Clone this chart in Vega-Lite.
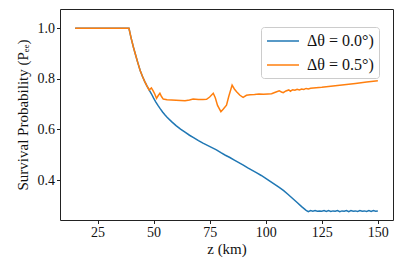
{
  "$schema": "https://vega.github.io/schema/vega-lite/v6.json",
  "width": 333,
  "height": 211,
  "autosize": "none",
  "padding": {"left": 60, "top": 9, "right": 20, "bottom": 55},
  "background": "white",
  "config": {
    "font": "Liberation Serif",
    "view": {"stroke": "#222", "strokeWidth": 1},
    "axis": {
      "grid": false, "domain": false, "ticks": true, "tickColor": "#222", "tickSize": 3.5,
      "labelFont": "Liberation Serif", "labelFontSize": 14, "labelColor": "#111",
      "titleFont": "Liberation Serif", "titleFontSize": 15, "titleFontWeight": "normal", "titleColor": "#111"
    }
  },
  "data": {"values": [
    {"z":15,"p":1.0,"s":"Δθ = 0.0°)"},{"z":39,"p":1.0,"s":"Δθ = 0.0°)"},{"z":40,"p":0.96,"s":"Δθ = 0.0°)"},{"z":41,"p":0.925,"s":"Δθ = 0.0°)"},{"z":42,"p":0.893,"s":"Δθ = 0.0°)"},{"z":43,"p":0.862,"s":"Δθ = 0.0°)"},{"z":44,"p":0.833,"s":"Δθ = 0.0°)"},{"z":45,"p":0.81,"s":"Δθ = 0.0°)"},{"z":46,"p":0.79,"s":"Δθ = 0.0°)"},{"z":47,"p":0.772,"s":"Δθ = 0.0°)"},{"z":48,"p":0.756,"s":"Δθ = 0.0°)"},{"z":49,"p":0.741,"s":"Δθ = 0.0°)"},{"z":50,"p":0.724,"s":"Δθ = 0.0°)"},{"z":51,"p":0.708,"s":"Δθ = 0.0°)"},{"z":52,"p":0.694,"s":"Δθ = 0.0°)"},{"z":53,"p":0.681,"s":"Δθ = 0.0°)"},{"z":54,"p":0.669,"s":"Δθ = 0.0°)"},{"z":55,"p":0.658,"s":"Δθ = 0.0°)"},{"z":56,"p":0.648,"s":"Δθ = 0.0°)"},{"z":58,"p":0.631,"s":"Δθ = 0.0°)"},{"z":60,"p":0.615,"s":"Δθ = 0.0°)"},{"z":62,"p":0.601,"s":"Δθ = 0.0°)"},{"z":64,"p":0.589,"s":"Δθ = 0.0°)"},{"z":66,"p":0.577,"s":"Δθ = 0.0°)"},{"z":68,"p":0.567,"s":"Δθ = 0.0°)"},{"z":70,"p":0.556,"s":"Δθ = 0.0°)"},{"z":72,"p":0.546,"s":"Δθ = 0.0°)"},{"z":74,"p":0.537,"s":"Δθ = 0.0°)"},{"z":76,"p":0.528,"s":"Δθ = 0.0°)"},{"z":78,"p":0.519,"s":"Δθ = 0.0°)"},{"z":80,"p":0.508,"s":"Δθ = 0.0°)"},{"z":82,"p":0.498,"s":"Δθ = 0.0°)"},{"z":84,"p":0.489,"s":"Δθ = 0.0°)"},{"z":86,"p":0.479,"s":"Δθ = 0.0°)"},{"z":88,"p":0.469,"s":"Δθ = 0.0°)"},{"z":90,"p":0.459,"s":"Δθ = 0.0°)"},{"z":92,"p":0.448,"s":"Δθ = 0.0°)"},{"z":94,"p":0.438,"s":"Δθ = 0.0°)"},{"z":96,"p":0.428,"s":"Δθ = 0.0°)"},{"z":98,"p":0.418,"s":"Δθ = 0.0°)"},{"z":100,"p":0.407,"s":"Δθ = 0.0°)"},{"z":102,"p":0.395,"s":"Δθ = 0.0°)"},{"z":104,"p":0.383,"s":"Δθ = 0.0°)"},{"z":106,"p":0.371,"s":"Δθ = 0.0°)"},{"z":108,"p":0.358,"s":"Δθ = 0.0°)"},{"z":110,"p":0.343,"s":"Δθ = 0.0°)"},{"z":112,"p":0.327,"s":"Δθ = 0.0°)"},{"z":114,"p":0.311,"s":"Δθ = 0.0°)"},{"z":116,"p":0.295,"s":"Δθ = 0.0°)"},{"z":118,"p":0.28,"s":"Δθ = 0.0°)"},{"z":119,"p":0.275,"s":"Δθ = 0.0°)"},{"z":120,"p":0.279,"s":"Δθ = 0.0°)"},{"z":121,"p":0.277,"s":"Δθ = 0.0°)"},{"z":122,"p":0.279,"s":"Δθ = 0.0°)"},{"z":123,"p":0.277,"s":"Δθ = 0.0°)"},{"z":124,"p":0.278,"s":"Δθ = 0.0°)"},{"z":125,"p":0.277,"s":"Δθ = 0.0°)"},{"z":126,"p":0.279,"s":"Δθ = 0.0°)"},{"z":127,"p":0.276,"s":"Δθ = 0.0°)"},{"z":128,"p":0.279,"s":"Δθ = 0.0°)"},{"z":129,"p":0.276,"s":"Δθ = 0.0°)"},{"z":130,"p":0.278,"s":"Δθ = 0.0°)"},{"z":131,"p":0.277,"s":"Δθ = 0.0°)"},{"z":132,"p":0.279,"s":"Δθ = 0.0°)"},{"z":133,"p":0.275,"s":"Δθ = 0.0°)"},{"z":134,"p":0.278,"s":"Δθ = 0.0°)"},{"z":135,"p":0.277,"s":"Δθ = 0.0°)"},{"z":136,"p":0.279,"s":"Δθ = 0.0°)"},{"z":137,"p":0.275,"s":"Δθ = 0.0°)"},{"z":138,"p":0.279,"s":"Δθ = 0.0°)"},{"z":139,"p":0.277,"s":"Δθ = 0.0°)"},{"z":140,"p":0.278,"s":"Δθ = 0.0°)"},{"z":141,"p":0.276,"s":"Δθ = 0.0°)"},{"z":142,"p":0.279,"s":"Δθ = 0.0°)"},{"z":143,"p":0.277,"s":"Δθ = 0.0°)"},{"z":144,"p":0.278,"s":"Δθ = 0.0°)"},{"z":145,"p":0.276,"s":"Δθ = 0.0°)"},{"z":146,"p":0.279,"s":"Δθ = 0.0°)"},{"z":147,"p":0.276,"s":"Δθ = 0.0°)"},{"z":148,"p":0.279,"s":"Δθ = 0.0°)"},{"z":149,"p":0.277,"s":"Δθ = 0.0°)"},{"z":150,"p":0.278,"s":"Δθ = 0.0°)"},
    {"z":15,"p":1.0,"s":"Δθ = 0.5°)"},{"z":39,"p":1.0,"s":"Δθ = 0.5°)"},{"z":40,"p":0.96,"s":"Δθ = 0.5°)"},{"z":41,"p":0.925,"s":"Δθ = 0.5°)"},{"z":42,"p":0.893,"s":"Δθ = 0.5°)"},{"z":43,"p":0.862,"s":"Δθ = 0.5°)"},{"z":44,"p":0.833,"s":"Δθ = 0.5°)"},{"z":45,"p":0.81,"s":"Δθ = 0.5°)"},{"z":46,"p":0.79,"s":"Δθ = 0.5°)"},{"z":47,"p":0.772,"s":"Δθ = 0.5°)"},{"z":48,"p":0.756,"s":"Δθ = 0.5°)"},{"z":49,"p":0.764,"s":"Δθ = 0.5°)"},{"z":49.8,"p":0.752,"s":"Δθ = 0.5°)"},{"z":50.5,"p":0.74,"s":"Δθ = 0.5°)"},{"z":51.3,"p":0.723,"s":"Δθ = 0.5°)"},{"z":52,"p":0.733,"s":"Δθ = 0.5°)"},{"z":52.8,"p":0.743,"s":"Δθ = 0.5°)"},{"z":53.5,"p":0.73,"s":"Δθ = 0.5°)"},{"z":54.3,"p":0.72,"s":"Δθ = 0.5°)"},{"z":56,"p":0.717,"s":"Δθ = 0.5°)"},{"z":58,"p":0.716,"s":"Δθ = 0.5°)"},{"z":60,"p":0.715,"s":"Δθ = 0.5°)"},{"z":62,"p":0.714,"s":"Δθ = 0.5°)"},{"z":64,"p":0.713,"s":"Δθ = 0.5°)"},{"z":66,"p":0.716,"s":"Δθ = 0.5°)"},{"z":67.6,"p":0.72,"s":"Δθ = 0.5°)"},{"z":70,"p":0.718,"s":"Δθ = 0.5°)"},{"z":72,"p":0.718,"s":"Δθ = 0.5°)"},{"z":73.6,"p":0.719,"s":"Δθ = 0.5°)"},{"z":75,"p":0.728,"s":"Δθ = 0.5°)"},{"z":76.6,"p":0.743,"s":"Δθ = 0.5°)"},{"z":77.5,"p":0.725,"s":"Δθ = 0.5°)"},{"z":78.5,"p":0.695,"s":"Δθ = 0.5°)"},{"z":80,"p":0.67,"s":"Δθ = 0.5°)"},{"z":81,"p":0.68,"s":"Δθ = 0.5°)"},{"z":82.5,"p":0.696,"s":"Δθ = 0.5°)"},{"z":83.5,"p":0.73,"s":"Δθ = 0.5°)"},{"z":85,"p":0.775,"s":"Δθ = 0.5°)"},{"z":86,"p":0.76,"s":"Δθ = 0.5°)"},{"z":87,"p":0.749,"s":"Δθ = 0.5°)"},{"z":88.5,"p":0.735,"s":"Δθ = 0.5°)"},{"z":89.9,"p":0.727,"s":"Δθ = 0.5°)"},{"z":91.4,"p":0.735,"s":"Δθ = 0.5°)"},{"z":93,"p":0.737,"s":"Δθ = 0.5°)"},{"z":95,"p":0.738,"s":"Δθ = 0.5°)"},{"z":97,"p":0.74,"s":"Δθ = 0.5°)"},{"z":99,"p":0.739,"s":"Δθ = 0.5°)"},{"z":101,"p":0.74,"s":"Δθ = 0.5°)"},{"z":102.6,"p":0.741,"s":"Δθ = 0.5°)"},{"z":104,"p":0.746,"s":"Δθ = 0.5°)"},{"z":106,"p":0.753,"s":"Δθ = 0.5°)"},{"z":107,"p":0.748,"s":"Δθ = 0.5°)"},{"z":107.8,"p":0.745,"s":"Δθ = 0.5°)"},{"z":109,"p":0.752,"s":"Δθ = 0.5°)"},{"z":110.3,"p":0.756,"s":"Δθ = 0.5°)"},{"z":111,"p":0.751,"s":"Δθ = 0.5°)"},{"z":112,"p":0.757,"s":"Δθ = 0.5°)"},{"z":113,"p":0.755,"s":"Δθ = 0.5°)"},{"z":114,"p":0.759,"s":"Δθ = 0.5°)"},{"z":115,"p":0.756,"s":"Δθ = 0.5°)"},{"z":116,"p":0.76,"s":"Δθ = 0.5°)"},{"z":117,"p":0.758,"s":"Δθ = 0.5°)"},{"z":118,"p":0.762,"s":"Δθ = 0.5°)"},{"z":119,"p":0.76,"s":"Δθ = 0.5°)"},{"z":120,"p":0.763,"s":"Δθ = 0.5°)"},{"z":125,"p":0.767,"s":"Δθ = 0.5°)"},{"z":130,"p":0.772,"s":"Δθ = 0.5°)"},{"z":135,"p":0.777,"s":"Δθ = 0.5°)"},{"z":140,"p":0.782,"s":"Δθ = 0.5°)"},{"z":145,"p":0.787,"s":"Δθ = 0.5°)"},{"z":150,"p":0.792,"s":"Δθ = 0.5°)"}
  ]},
  "mark": {"type": "line", "strokeWidth": 1.5, "clip": true},
  "encoding": {
    "x": {"field": "z", "type": "quantitative", "title": "z (km)",
      "scale": {"domain": [8.25, 156.75], "nice": false, "zero": false},
      "axis": {"values": [25, 50, 75, 100, 125, 150], "labelPadding": 2, "titlePadding": 2}},
    "y": {"field": "p", "type": "quantitative", "title": "Survival Probability (Pₑₑ)",
      "scale": {"domain": [0.242, 1.076], "nice": false, "zero": false},
      "axis": {"values": [0.4, 0.6, 0.8, 1.0], "format": ".1f", "labelPadding": 2, "titlePadding": 7}},
    "color": {"field": "s", "type": "nominal",
      "scale": {"domain": ["Δθ = 0.0°)", "Δθ = 0.5°)"], "range": ["#1f77b4", "#ff7f0e"]},
      "legend": {"title": null, "orient": "none", "legendX": 201, "legendY": 18,
        "symbolType": "M-1,0H3", "symbolSize": 256, "symbolStrokeWidth": 1.5,
        "labelFont": "Liberation Serif", "labelFontSize": 16, "labelColor": "#111", "labelOffset": 23,
        "strokeColor": "#cccccc", "fillColor": "white", "cornerRadius": 3, "padding": 5, "rowPadding": 7}}
  }
}
